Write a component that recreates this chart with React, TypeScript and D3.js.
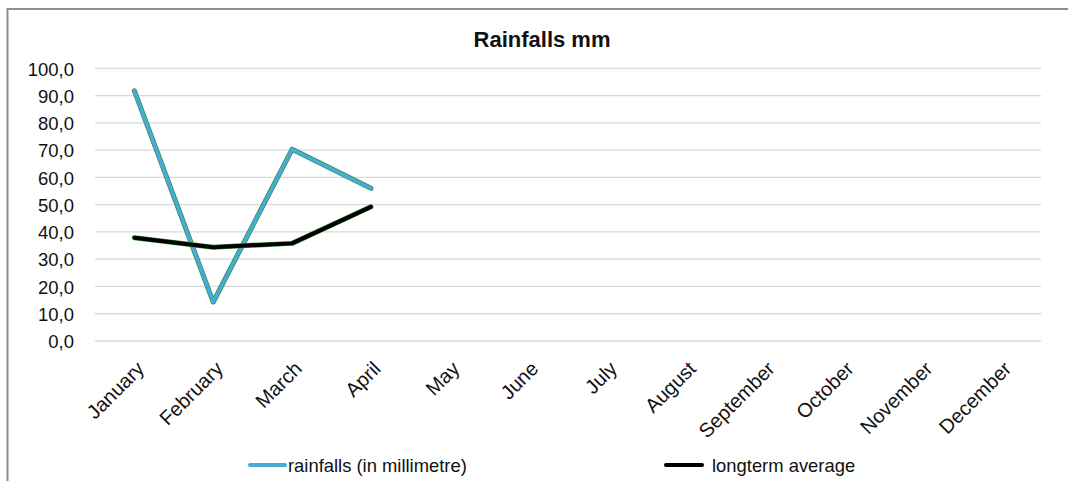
import React, { useEffect } from "react";
import * as d3 from "d3";

const months = ["January","February","March","April","May","June","July","August","September","October","November","December"];
const rainfalls: (number | null)[] = [91.7, 14.3, 70.3, 56.0, null, null, null, null, null, null, null, null];
const longterm: (number | null)[] = [37.9, 34.4, 35.8, 49.2, null, null, null, null, null, null, null, null];
const yTicks = [0, 10, 20, 30, 40, 50, 60, 70, 80, 90, 100];
const title = "Rainfalls mm";
const seriesNames = ["rainfalls (in millimetre)", "longterm average"];

export default function App() {
  useEffect(() => {
    document.body.style.margin = "0";
    document.documentElement.style.overflow = "hidden";
    document.body.style.overflow = "hidden";
  }, []);
  const W = 1068, H = 481;
  const x = d3.scaleBand<string>().domain(months).range([95, 1041]);
  const y = d3.scaleLinear().domain([0, 100]).range([341, 68.3]);
  const cx = (m: string) => (x(m) as number) + x.bandwidth() / 2;
  const mk = (vals: (number | null)[]) =>
    d3.line<number | null>()
      .defined((d) => d !== null)
      .x((_, i) => cx(months[i]))
      .y((d) => y(d as number))(vals) as string;
  const fmt = (v: number) => v.toFixed(1).replace(".", ",");
  const font = "'Liberation Sans', Arial, sans-serif";
  return (
    <svg width={W} height={H} style={{ position: "absolute", left: 0, top: 0, display: "block", background: "#fff" }}>
      <rect x={0} y={0} width={W} height={H} fill="#fff" />
      <rect x={7.5} y={9} width={1080} height={490} fill="#fff" stroke="#8f8f8f" strokeWidth={2} />
      <text x={542} y={47} textAnchor="middle" fontFamily={font} fontWeight="bold" fontSize={22} fill="#111">{title}</text>
      {yTicks.map((t) => (
        <g key={t}>
          <line x1={95} x2={1041} y1={y(t)} y2={y(t)} stroke="#d9d9d9" strokeWidth={1.3} />
          <text x={74} y={y(t) + 7.3} textAnchor="end" fontFamily={font} fontSize={18.5} fill="#111">{fmt(t)}</text>
        </g>
      ))}
      {months.map((m) => (
        <text key={m} transform={`translate(${cx(m) + 11},${370}) rotate(-45)`} textAnchor="end"
          fontFamily={font} fontSize={20} fill="#111">{m}</text>
      ))}
      <path d={mk(rainfalls)} fill="none" stroke="#3a8a4a" strokeWidth={5} strokeLinejoin="round" strokeLinecap="round" />
      <path d={mk(rainfalls)} fill="none" stroke="#45acd6" strokeWidth={3.6} strokeLinejoin="round" strokeLinecap="round" />
      <path d={mk(longterm)} fill="none" stroke="#3a9a3a" strokeWidth={5} strokeLinejoin="round" strokeLinecap="round" />
      <path d={mk(longterm)} fill="none" stroke="#000" strokeWidth={4} strokeLinejoin="round" strokeLinecap="round" />
      <line x1={250} x2={285} y1={465} y2={465} stroke="#45acd6" strokeWidth={4} strokeLinecap="round" />
      <text x={288} y={471.5} fontFamily={font} fontSize={18.4} fill="#111">{seriesNames[0]}</text>
      <line x1={666} x2={702} y1={465} y2={465} stroke="#000" strokeWidth={4} strokeLinecap="round" />
      <text x={712} y={471.5} fontFamily={font} fontSize={18.4} fill="#111">{seriesNames[1]}</text>
    </svg>
  );
}
